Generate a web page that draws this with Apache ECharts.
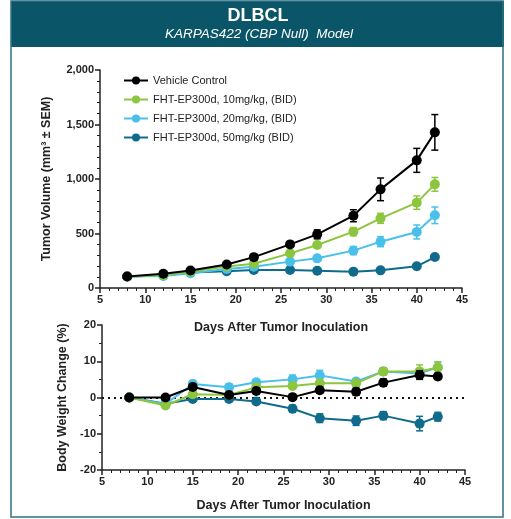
<!DOCTYPE html>
<html><head><meta charset="utf-8">
<script src="https://cdn.jsdelivr.net/npm/echarts@6/dist/echarts.min.js"></script>
<style>html,body{margin:0;padding:0;background:#fff}#c{width:511px;height:519px}</style>
</head><body><div id="c"></div>
<script>
var days = [8, 12, 15, 19, 22, 26, 29, 33, 36, 40, 42];
var seriesNames = ['Vehicle Control', 'FHT-EP300d, 10mg/kg, (BID)', 'FHT-EP300d, 20mg/kg, (BID)', 'FHT-EP300d, 50mg/kg (BID)'];
var seriesColors = ['#000000', '#8cc63f', '#48c0ea', '#0f6a8b'];
// Tumor volume (mm3) and SEM
var tvVehicle = [105, 130, 160, 215, 283, 400, 492, 663, 905, 1171, 1428];
var tv10 = [105, 117, 150, 197, 222, 318, 394, 517, 639, 783, 951];
var tv20 = [105, 111, 135, 175, 195, 242, 272, 343, 425, 514, 667];
var tv50 = [105, 114, 142, 154, 166, 165, 159, 150, 162, 199, 284];
var tvVehicleErr = [5, 8, 10, 15, 15, 20, 41, 55, 104, 110, 163];
var tv10Err = [5, 6, 8, 10, 12, 15, 20, 37, 46, 61, 63];
var tv20Err = [5, 6, 8, 10, 12, 20, 25, 37, 46, 64, 76];
var tv50Err = [5, 5, 6, 8, 8, 8, 8, 8, 10, 12, 15];
// Body weight change (%) and SEM
var bwVehicle = [0, 0, 2.9, 0.7, 1.8, 0.1, 2.0, 1.6, 4.1, 6.2, 5.8];
var bw10 = [0, -2.2, 0.9, 0.7, 2.8, 3.2, 3.9, 3.9, 7.2, 7.2, 8.3];
var bw20 = [0, -1.8, 3.7, 2.8, 4.2, 5.0, 6.1, 4.4, 7.2, 6.6, 8.3];
var bw50 = [0, -1.7, -0.4, -0.4, -1.1, -3.1, -5.7, -6.4, -5.0, -7.2, -5.3];
var bwVehicleErr = [0, 0.6, 0.8, 0.6, 0.8, 0.5, 0.8, 1.0, 1.0, 1.2, 0.8];
var bw10Err = [0, 0.6, 0.8, 0.6, 0.8, 0.8, 0.8, 0.8, 1.0, 1.8, 1.5];
var bw20Err = [0, 0.6, 1.0, 1.0, 0.8, 1.2, 1.4, 0.8, 1.0, 1.0, 1.5];
var bw50Err = [0, 0.5, 0.6, 0.5, 0.6, 1.0, 1.2, 1.3, 1.1, 2.0, 1.2];
var xTicks = [5, 10, 15, 20, 25, 30, 35, 40, 45];
var tvTicks = [0, 500, 1000, 1500, 2000];
var bwTicks = [-20, -10, 0, 10, 20];

var FONT = '"Liberation Sans", Arial, sans-serif';
var AXC = '#222';

function pairs(vals) { return days.map(function (d, i) { return [d, vals[i]]; }); }
function errData(vals, errs) { return days.map(function (d, i) { return [d, vals[i] - errs[i], vals[i] + errs[i]]; }); }

function errSeries(vals, errs, color, gi, z) {
  return {
    type: 'custom', xAxisIndex: gi, yAxisIndex: gi, z: z, silent: true,
    encode: { x: 0, y: [1, 2] },
    data: errData(vals, errs),
    renderItem: function (params, api) {
      var x = api.value(0);
      var lo = api.coord([x, api.value(1)]);
      var hi = api.coord([x, api.value(2)]);
      var w = 3.5;
      var st = { stroke: color, lineWidth: 1.5 };
      return { type: 'group', children: [
        { type: 'line', shape: { x1: lo[0], y1: lo[1], x2: hi[0], y2: hi[1] }, style: st },
        { type: 'line', shape: { x1: lo[0] - w, y1: lo[1], x2: lo[0] + w, y2: lo[1] }, style: st },
        { type: 'line', shape: { x1: hi[0] - w, y1: hi[1], x2: hi[0] + w, y2: hi[1] }, style: st }
      ] };
    }
  };
}
function lineSeries(name, vals, color, gi, z, extra) {
  var s = {
    name: name, type: 'line', xAxisIndex: gi, yAxisIndex: gi, z: z,
    data: pairs(vals), symbol: 'circle', symbolSize: 10, showSymbol: true,
    itemStyle: { color: color }, lineStyle: { color: color, width: 2 },
    emphasis: { disabled: true }, animation: false
  };
  if (extra) for (var k in extra) s[k] = extra[k];
  return s;
}

var tvVals = [tvVehicle, tv10, tv20, tv50];
var tvErrs = [tvVehicleErr, tv10Err, tv20Err, tv50Err];
var bwVals = [bwVehicle, bw10, bw20, bw50];
var bwErrs = [bwVehicleErr, bw10Err, bw20Err, bw50Err];

var series = [];
for (var i = 3; i >= 0; i--) {
  var z = 10 + (3 - i) * 2;
  series.push(errSeries(tvVals[i], tvErrs[i], seriesColors[i], 0, z));
  series.push(lineSeries(seriesNames[i], tvVals[i], seriesColors[i], 0, z + 1));
}
series.push(lineSeries('zeroLine', [0,0,0,0,0,0,0,0,0,0,0], 'rgba(0,0,0,0)', 1, 5, {
  symbol: 'none', lineStyle: { width: 0, color: 'rgba(0,0,0,0)' },
  markLine: { silent: true, symbol: 'none', label: { show: false },
    lineStyle: { type: [2, 4], color: '#111', width: 2 },
    data: [[{ coord: [5, 0] }, { coord: [45, 0] }]] }
}));
for (var j = 3; j >= 0; j--) {
  var z2 = 10 + (3 - j) * 2;
  series.push(errSeries(bwVals[j], bwErrs[j], seriesColors[j], 1, z2));
  series.push(lineSeries(seriesNames[j] + ' ', bwVals[j], seriesColors[j], 1, z2 + 1));
}

function xAxisCfg(gi) {
  return {
    type: 'value', gridIndex: gi, min: xTicks[0], max: xTicks[xTicks.length - 1], interval: 5,
    name: 'Days After Tumor Inoculation', nameLocation: 'middle', nameGap: gi === 0 ? 33 : 29,
    nameTextStyle: { fontFamily: FONT, fontWeight: 'bold', fontSize: 12.5, color: '#222' },
    axisLine: { show: true, onZero: false, lineStyle: { color: AXC, width: 1.5 } },
    axisTick: { show: true, length: 5, lineStyle: { color: AXC, width: 1.5 } },
    minorTick: { show: true, splitNumber: 5, length: 3, lineStyle: { color: AXC, width: 1 } },
    splitLine: { show: false },
    axisLabel: { fontFamily: FONT, fontWeight: 'bold', fontSize: 11, color: '#222', margin: 6 }
  };
}
function yAxisCfg(gi, ticks, name, gap, minorSplit, fs) {
  return {
    type: 'value', gridIndex: gi, min: ticks[0], max: ticks[ticks.length - 1], interval: ticks[1] - ticks[0],
    name: name, nameLocation: 'middle', nameGap: gap, nameRotate: 90,
    nameTextStyle: { fontFamily: FONT, fontWeight: 'bold', fontSize: fs, color: '#222' },
    axisLine: { show: true, onZero: false, lineStyle: { color: AXC, width: 1.5 } },
    axisTick: { show: true, length: 5, lineStyle: { color: AXC, width: 1.5 } },
    minorTick: { show: true, splitNumber: minorSplit, length: 3, lineStyle: { color: AXC, width: 1 } },
    splitLine: { show: false },
    axisLabel: { fontFamily: FONT, fontWeight: 'bold', fontSize: 11, color: '#222', margin: 6,
      formatter: function (v) { return v.toLocaleString('en-US'); } }
  };
}

var chart = echarts.init(document.getElementById('c'), null, { renderer: 'canvas' });
chart.setOption({
  animation: false,
  textStyle: { fontFamily: FONT },
  grid: [
    { left: 100, right: 49, top: 70, height: 218 },
    { left: 102, right: 46, top: 325, height: 145 }
  ],
  xAxis: [xAxisCfg(0), xAxisCfg(1)],
  yAxis: [
    yAxisCfg(0, tvTicks, 'Tumor Volume (mm³ ± SEM)', 47, 5, 12.5),
    yAxisCfg(1, bwTicks, 'Body Weight Change (%)', 31, 2, 12.5)
  ],
  legend: {
    data: seriesNames, orient: 'vertical', left: 118, top: 70, itemGap: 8,
    itemWidth: 24, itemHeight: 10, selectedMode: false,
    textStyle: { fontFamily: FONT, fontSize: 11, color: '#222' }
  },
  graphic: [
    { type: 'rect', shape: { x: 11, y: 1, width: 493, height: 46 }, style: { fill: '#0a5668' }, z: 0 },
    { type: 'rect', shape: { x: 11, y: 1, width: 492, height: 516 }, style: { fill: null, stroke: '#2f7085', lineWidth: 1.5 }, z: 1 },
    { type: 'text', x: 258, y: 16, style: { text: 'DLBCL', fill: '#fff', font: 'bold 18px ' + FONT, textAlign: 'center', textVerticalAlign: 'middle' }, z: 2 },
    { type: 'text', x: 259, y: 34, style: { text: 'KARPAS422 (CBP Null)  Model', fill: '#fff', font: 'italic 13.5px ' + FONT, textAlign: 'center', textVerticalAlign: 'middle' }, z: 2 }
  ],
  series: series
});
</script></body></html>
